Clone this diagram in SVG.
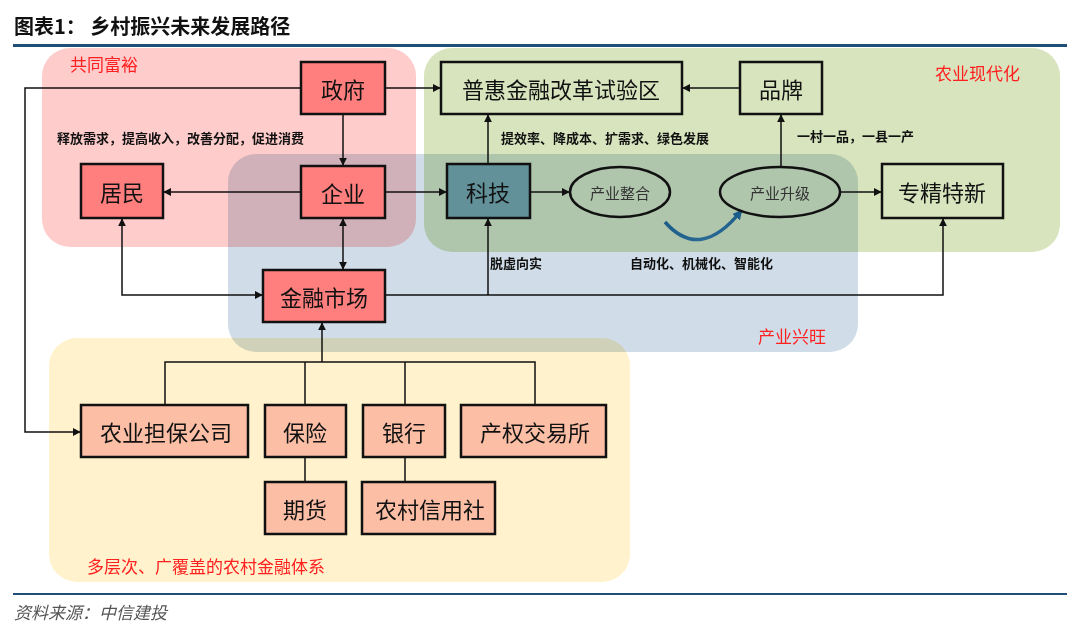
<svg xmlns="http://www.w3.org/2000/svg" width="1080" height="630" viewBox="0 0 1080 630">
<defs>
<style>
.cjk{font-family:"Noto Sans CJK SC","Noto Sans",sans-serif;}
.box{stroke:#111;stroke-width:2.5;}
.red{fill:#ff7f7f;}
.grn{fill:none;}
.sal{fill:#fcbfa6;}
.lbl{font-size:22px;fill:#111;text-anchor:middle;dominant-baseline:central;}
.ell{font-size:15px;fill:#333;text-anchor:middle;dominant-baseline:central;}
.note{font-size:13px;fill:#111;font-weight:bold;}
.area{font-size:17px;fill:#ff2020;}
.reg{mix-blend-mode:multiply;}
.con{stroke:#111;stroke-width:1.5;fill:none;}
</style>
<marker id="ah" viewBox="0 0 10 10" refX="9" refY="5" markerWidth="8" markerHeight="8" markerUnits="userSpaceOnUse" orient="auto-start-reverse">
<path d="M0,0 L10,5 L0,10 z" fill="#111"/>
</marker>
<marker id="bh" viewBox="0 0 10 10" refX="8" refY="5" markerWidth="10" markerHeight="10" markerUnits="userSpaceOnUse" orient="auto">
<path d="M0,0 L10,5 L0,10 z" fill="#1d5d8a"/>
</marker>
<linearGradient id="cg" x1="0" y1="0" x2="1" y2="0">
<stop offset="0" stop-color="#1d5d8a"/>
<stop offset="0.5" stop-color="#2a6a95"/>
<stop offset="1" stop-color="#1d5d8a"/>
</linearGradient>
</defs>
<rect width="1080" height="630" fill="#fff"/>
<g id="header">
<text x="14" y="34" class="cjk" font-size="20" font-weight="bold" fill="#111">图表1：  乡村振兴未来发展路径</text>
<rect x="13" y="44" width="1054" height="3" fill="#1f4e79"/>
</g>
<g id="regions">
<rect class="reg" x="49" y="338" width="581" height="244" rx="28" fill="#fff2cc"/>
<rect class="reg" x="228" y="154" width="630" height="198" rx="28" fill="#d0dde8"/>
<rect class="reg" x="42" y="48" width="374" height="199" rx="28" fill="#ffcccc"/>
<rect class="reg" x="424" y="48" width="636" height="204" rx="28" fill="#d7e4bd"/>
<text x="70" y="71" class="cjk area">共同富裕</text>
<text x="935" y="80" class="cjk area">农业现代化</text>
<text x="758" y="343" class="cjk area">产业兴旺</text>
<text x="87" y="573" class="cjk area">多层次、广覆盖的农村金融体系</text>
</g>
<g id="connectors">
<path class="con" d="M301,88 H25 V432 H80" marker-end="url(#ah)"/>
<path class="con" d="M385,88 H440" marker-end="url(#ah)"/>
<path class="con" d="M740,88 H683" marker-end="url(#ah)"/>
<path class="con" d="M343,114 V165" marker-end="url(#ah)"/>
<path class="con" d="M301,192 H164" marker-end="url(#ah)"/>
<path class="con" d="M385,192 H446" marker-end="url(#ah)"/>
<path class="con" d="M488,164 V115" marker-end="url(#ah)"/>
<path class="con" d="M530,192 H569" marker-end="url(#ah)"/>
<path class="con" d="M781,167 V115" marker-end="url(#ah)"/>
<path class="con" d="M841,192 H881" marker-end="url(#ah)"/>
<path class="con" d="M343,219 V269" marker-start="url(#ah)" marker-end="url(#ah)"/>
<path class="con" d="M122,219 V295 H262" marker-start="url(#ah)" marker-end="url(#ah)"/>
<path class="con" d="M385,295 H943 V219" marker-end="url(#ah)"/>
<path class="con" d="M488,295 V219" marker-end="url(#ah)"/>
<path class="con" d="M322,362 V323" marker-end="url(#ah)"/>
<path class="con" d="M165,405 V362 H535 V405 M305,362 V405 M405,362 V405"/>
<path class="con" d="M305,457 V482 M405,457 V482"/>
<path d="M665,222 Q700,262 741,211" stroke="url(#cg)" stroke-width="3.5" fill="none" marker-end="url(#bh)"/>
</g>
<g id="notes">
<text x="57" y="143" class="cjk note">释放需求，提高收入，改善分配，促进消费</text>
<text x="501" y="143" class="cjk note">提效率、降成本、扩需求、绿色发展</text>
<text x="797" y="141" class="cjk note">一村一品，一县一产</text>
<text x="490" y="268" class="cjk note">脱虚向实</text>
<text x="630" y="268" class="cjk note">自动化、机械化、智能化</text>
</g>
<g id="n-zhengfu"><rect class="box red" x="301" y="62" width="84" height="52"/><text x="343" y="88" class="cjk lbl">政府</text></g>
<g id="n-puhui"><rect class="box grn" x="441" y="62" width="241" height="52"/><text x="561" y="88" class="cjk lbl">普惠金融改革试验区</text></g>
<g id="n-pinpai"><rect class="box grn" x="740" y="62" width="82" height="52"/><text x="781" y="88" class="cjk lbl">品牌</text></g>
<g id="n-jumin"><rect class="box red" x="81" y="164" width="82" height="54"/><text x="122" y="191" class="cjk lbl">居民</text></g>
<g id="n-qiye"><rect class="box red" x="301" y="166" width="84" height="52"/><text x="343" y="192" class="cjk lbl">企业</text></g>
<g id="n-keji"><rect class="box" x="447" y="164" width="83" height="54" fill="#62919a"/><text x="488" y="191" class="cjk lbl">科技</text></g>
<g id="n-zhenghe"><ellipse class="box" cx="620" cy="192" rx="50" ry="25" fill="none"/><text x="620" y="192" class="cjk ell">产业整合</text></g>
<g id="n-shengji"><ellipse class="box" cx="780" cy="192" rx="60" ry="25" fill="none"/><text x="780" y="192" class="cjk ell">产业升级</text></g>
<g id="n-zhuanjing"><rect class="box grn" x="882" y="164" width="121" height="54"/><text x="942" y="191" class="cjk lbl">专精特新</text></g>
<g id="n-jinrong"><rect class="box red" x="263" y="270" width="122" height="52"/><text x="324" y="296" class="cjk lbl">金融市场</text></g>
<g id="n-danbao"><rect class="box sal" x="81" y="405" width="167" height="52"/><text x="166" y="431" class="cjk lbl">农业担保公司</text></g>
<g id="n-baoxian"><rect class="box sal" x="265" y="405" width="81" height="52"/><text x="305" y="431" class="cjk lbl">保险</text></g>
<g id="n-yinhang"><rect class="box sal" x="363" y="405" width="82" height="52"/><text x="404" y="431" class="cjk lbl">银行</text></g>
<g id="n-chanquan"><rect class="box sal" x="461" y="405" width="145" height="52"/><text x="535" y="431" class="cjk lbl">产权交易所</text></g>
<g id="n-qihuo"><rect class="box sal" x="265" y="482" width="81" height="52"/><text x="305" y="508" class="cjk lbl">期货</text></g>
<g id="n-xinyong"><rect class="box sal" x="362" y="482" width="133" height="52"/><text x="430" y="508" class="cjk lbl">农村信用社</text></g>
<g id="footer">
<rect x="13" y="593" width="1054" height="2" fill="#1f4e79"/>
<text x="14" y="619" class="cjk" font-size="17" font-style="italic" fill="#555">资料来源：中信建投</text>
</g>
</svg>
